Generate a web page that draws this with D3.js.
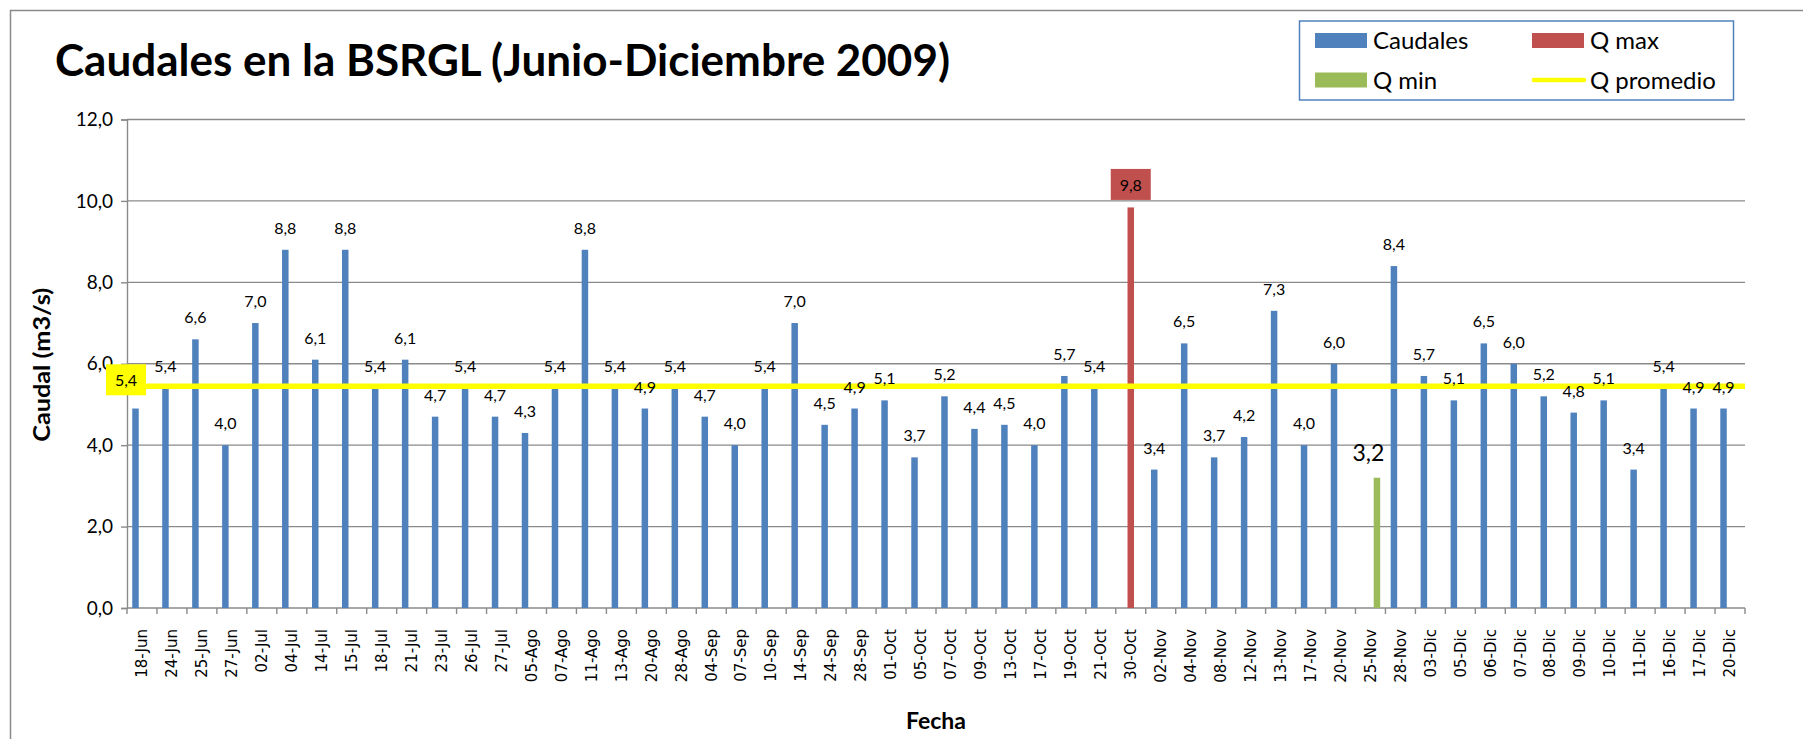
<!DOCTYPE html>
<html>
<head>
<meta charset="utf-8">
<script src="https://cdn.jsdelivr.net/npm/d3@7"></script>
<style>
body { margin: 0; background: #fff; }
svg { display: block; font-family: Lato, "Open Sans", sans-serif; }
</style>
</head>
<body>
<svg width="1803" height="739"></svg>
<script>
var fechas = ["18-Jun", "24-Jun", "25-Jun", "27-Jun", "02-Jul", "04-Jul", "14-Jul", "15-Jul", "18-Jul", "21-Jul",
    "23-Jul", "26-Jul", "27-Jul", "05-Ago", "07-Ago", "11-Ago", "13-Ago", "20-Ago", "28-Ago", "04-Sep",
    "07-Sep", "10-Sep", "14-Sep", "24-Sep", "28-Sep", "01-Oct", "05-Oct", "07-Oct", "09-Oct", "13-Oct",
    "17-Oct", "19-Oct", "21-Oct", "30-Oct", "02-Nov", "04-Nov", "08-Nov", "12-Nov", "13-Nov", "17-Nov",
    "20-Nov", "25-Nov", "28-Nov", "03-Dic", "05-Dic", "06-Dic", "07-Dic", "08-Dic", "09-Dic", "10-Dic",
    "11-Dic", "16-Dic", "17-Dic", "20-Dic"];
var caudales = [4.9, 5.4, 6.6, 4.0, 7.0, 8.8, 6.1, 8.8, 5.4, 6.1,
    4.7, 5.4, 4.7, 4.3, 5.4, 8.8, 5.4, 4.9, 5.4, 4.7,
    4.0, 5.4, 7.0, 4.5, 4.9, 5.1, 3.7, 5.2, 4.4, 4.5,
    4.0, 5.7, 5.4, null, 3.4, 6.5, 3.7, 4.2, 7.3, 4.0,
    6.0, null, 8.4, 5.7, 5.1, 6.5, 6.0, 5.2, 4.8, 5.1,
    3.4, 5.4, 4.9, 4.9];
var qMax = [{fecha: "30-Oct", valor: 9.84}];
var qMin = [{fecha: "25-Nov", valor: 3.2}];
var yTicks = [0, 2, 4, 6, 8, 10, 12];
var series = ["Caudales", "Q max", "Q min"];
var colores = {"Caudales": "#4F81BD", "Q max": "#C0504D", "Q min": "#9BBB59", "Q promedio": "#FFFF00"};

var es = d3.formatLocale({decimal: ",", thousands: ".", grouping: [3], currency: ["", " €"]});
var fmt = es.format(".1f");

var plotLeft = 127, plotRight = 1745, plotTop = 119.5, plotBottom = 608;
var grid = "#8a8a8a";

var svg = d3.select("svg");

svg.append("rect")
    .attr("x", 10.5).attr("y", 10.5)
    .attr("width", 1900).attr("height", 900)
    .attr("fill", "none").attr("stroke", "#8a8a8a").attr("stroke-width", 1.5);

var x = d3.scaleBand().domain(fechas).range([plotLeft, plotRight]).paddingInner(0.35).paddingOuter(0.175);
var xs = d3.scaleBand().domain(series).range([0, x.bandwidth()]);
var y = d3.scaleLinear().domain([0, 12]).range([plotBottom, plotTop]);

// gridlines
svg.append("g").selectAll("line")
    .data(yTicks.filter(d => d > 0))
    .join("line")
    .attr("x1", plotLeft).attr("x2", plotRight)
    .attr("y1", d => y(d)).attr("y2", d => y(d))
    .attr("stroke", grid).attr("stroke-width", 1.4);

var yAxis = svg.append("g")
    .attr("transform", "translate(" + plotLeft + ",0)")
    .call(d3.axisLeft(y).tickValues(yTicks).tickSize(6).tickPadding(8).tickFormat(fmt));
yAxis.selectAll("path, line").attr("stroke", grid).attr("stroke-width", 1.4);
yAxis.selectAll("text").attr("font-family", "Lato").attr("font-size", 19).attr("fill", "#000");

// x axis
svg.append("line")
    .attr("x1", plotLeft).attr("x2", plotRight)
    .attr("y1", plotBottom).attr("y2", plotBottom)
    .attr("stroke", grid).attr("stroke-width", 1.6);
svg.append("g").selectAll("line")
    .data(d3.range(fechas.length + 1))
    .join("line")
    .attr("x1", d => plotLeft + d * x.step()).attr("x2", d => plotLeft + d * x.step())
    .attr("y1", plotBottom).attr("y2", plotBottom + 6)
    .attr("stroke", grid).attr("stroke-width", 1.4);
svg.append("g").selectAll("text")
    .data(fechas)
    .join("text")
    .attr("transform", d => "translate(" + (x(d) + x.bandwidth() / 2) + "," + (plotBottom + 21) + ") rotate(-90)")
    .attr("dy", "0.35em")
    .attr("text-anchor", "end")
    .attr("font-family", "DejaVu Sans")
    .attr("font-size", 15)
    .text(d => d);

// bars
var datosCaudal = fechas.map((f, i) => ({fecha: f, valor: caudales[i]})).filter(d => d.valor != null);

svg.append("g").selectAll("rect")
    .data(datosCaudal)
    .join("rect")
    .attr("x", d => x(d.fecha) + xs("Caudales"))
    .attr("width", xs.bandwidth())
    .attr("y", d => y(d.valor))
    .attr("height", d => y(0) - y(d.valor))
    .attr("fill", colores["Caudales"]);

svg.append("g").selectAll("rect")
    .data(qMax)
    .join("rect")
    .attr("x", d => x(d.fecha) + xs("Q max"))
    .attr("width", xs.bandwidth())
    .attr("y", d => y(d.valor))
    .attr("height", d => y(0) - y(d.valor))
    .attr("fill", colores["Q max"]);

svg.append("g").selectAll("rect")
    .data(qMin)
    .join("rect")
    .attr("x", d => x(d.fecha) + xs("Q min"))
    .attr("width", xs.bandwidth())
    .attr("y", d => y(d.valor))
    .attr("height", d => y(0) - y(d.valor))
    .attr("fill", colores["Q min"]);

// Q promedio
var promedio = d3.mean(caudales.concat(qMax.map(d => d.valor), qMin.map(d => d.valor)).filter(d => d != null));

svg.append("line")
    .attr("x1", plotLeft).attr("x2", plotRight)
    .attr("y1", y(promedio)).attr("y2", y(promedio))
    .attr("stroke", colores["Q promedio"]).attr("stroke-width", 5.5);

// labels (the one hidden under the Q promedio label box is left out)
var labelX = d => x(d.fecha) + xs("Caudales") + xs.bandwidth() / 2;
var labelY = d => y(d.valor) - 16;

svg.append("g").selectAll("text")
    .data(datosCaudal.filter(d => !(Math.abs(labelX(d) - plotLeft) < 30 && Math.abs(labelY(d) - y(promedio)) < 20)))
    .join("text")
    .attr("x", labelX)
    .attr("y", labelY)
    .attr("text-anchor", "middle")
    .attr("font-size", 16)
    .text(d => fmt(d.valor));

qMin.forEach(function(d) {
    svg.append("text")
        .attr("x", x(d.fecha) + x.bandwidth() / 2 - 2)
        .attr("y", y(d.valor) - 16.5)
        .attr("text-anchor", "middle")
        .attr("font-size", 23)
        .text(fmt(d.valor));
});

function cajaEtiqueta(cx, base, texto, fondo) {
    svg.append("rect")
        .attr("x", cx - 20).attr("y", base - 22)
        .attr("width", 40).attr("height", 31)
        .attr("fill", fondo);
    svg.append("text")
        .attr("x", cx).attr("y", base)
        .attr("text-anchor", "middle")
        .attr("font-size", 16)
        .text(texto);
}

qMax.forEach(function(d) {
    cajaEtiqueta(x(d.fecha) + xs("Q max") + xs.bandwidth() / 2, y(d.valor) - 16.5, fmt(d.valor), colores["Q max"]);
});
cajaEtiqueta(plotLeft - 1, y(promedio), fmt(promedio), colores["Q promedio"]);

// titles
svg.append("text")
    .attr("x", 55).attr("y", 76)
    .attr("font-size", 44).attr("font-weight", "bold")
    .attr("textLength", 895).attr("lengthAdjust", "spacingAndGlyphs")
    .text("Caudales en la BSRGL (Junio-Diciembre 2009)");

svg.append("text")
    .attr("transform", "translate(50," + ((plotTop + plotBottom) / 2 + 1) + ") rotate(-90)")
    .attr("text-anchor", "middle")
    .attr("font-size", 23).attr("font-weight", "bold")
    .attr("textLength", 154).attr("lengthAdjust", "spacingAndGlyphs")
    .text("Caudal (m3/s)");

svg.append("text")
    .attr("x", (plotLeft + plotRight) / 2).attr("y", 729)
    .attr("text-anchor", "middle")
    .attr("font-size", 23).attr("font-weight", "bold")
    .text("Fecha");

// legend
var legend = svg.append("g");
legend.append("rect")
    .attr("x", 1299.5).attr("y", 21)
    .attr("width", 434).attr("height", 79)
    .attr("fill", "#fff").attr("stroke", "#4F81BD").attr("stroke-width", 1.5);

var items = [
    {nombre: "Caudales", tipo: "barra", x: 1315, y: 40.5},
    {nombre: "Q max", tipo: "barra", x: 1532, y: 40.5},
    {nombre: "Q min", tipo: "barra", x: 1315, y: 80},
    {nombre: "Q promedio", tipo: "linea", x: 1532, y: 80}
];

items.forEach(function(d) {
    if (d.tipo == "barra") {
        legend.append("rect")
            .attr("x", d.x).attr("y", d.y - 7.5)
            .attr("width", 52).attr("height", 15)
            .attr("fill", colores[d.nombre]);
    } else {
        legend.append("line")
            .attr("x1", d.x + 2).attr("x2", d.x + 52)
            .attr("y1", d.y).attr("y2", d.y)
            .attr("stroke", colores[d.nombre]).attr("stroke-width", 4.7)
            .attr("stroke-linecap", "round");
    }
    legend.append("text")
        .attr("x", d.x + 58).attr("y", d.y + 8.5)
        .attr("font-size", 24)
        .text(d.nombre);
});
</script>
</body>
</html>
